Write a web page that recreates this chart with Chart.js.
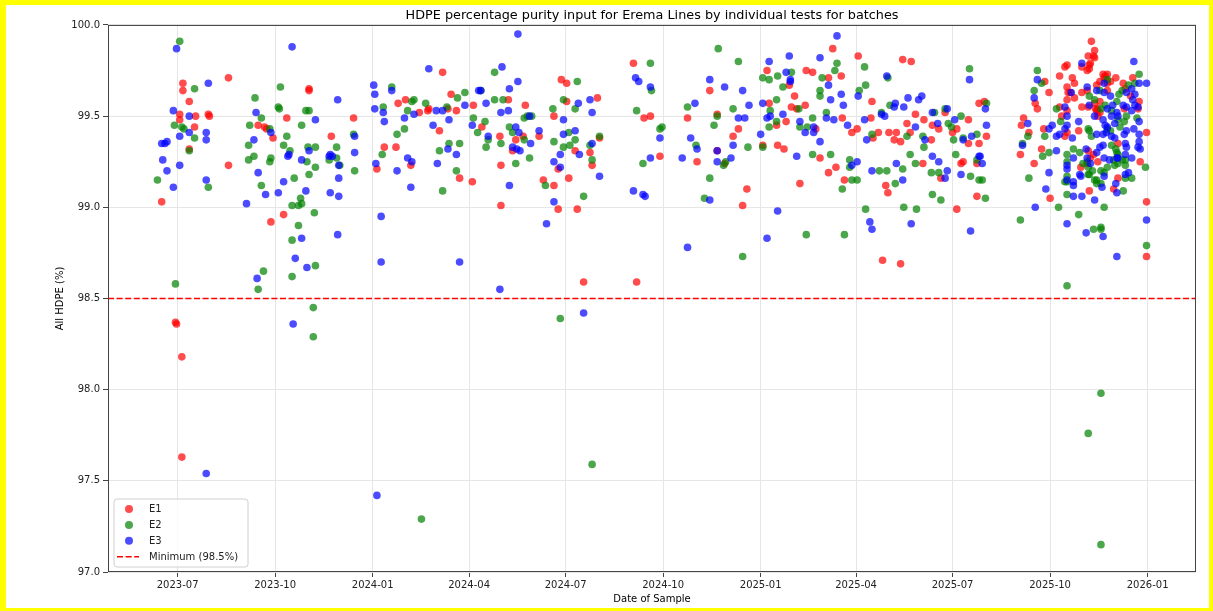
<!DOCTYPE html>
<html>
<head>
<meta charset="utf-8">
<script src="https://cdn.jsdelivr.net/npm/chart.js@4.4.1/dist/chart.umd.min.js"></script>
<style>
  html, body { margin: 0; padding: 0; background: #fff; }
  #wrap { position: relative; width: 1213px; height: 611px; }
  #chart { display: block; }
  #frame { position: absolute; left: 0; top: 0; width: 1213px; height: 611px; box-sizing: border-box;
           border-style: solid; border-color: #ffff00; border-width: 5px 4px 3px 6px; pointer-events: none; }
</style>
</head>
<body>
<div id="wrap"><canvas id="chart" width="1213" height="611"></canvas><div id="frame"></div></div>
<script>
// samples: [date of sample, HDPE %]
const e1Samples = [
  ['2023-06-16',99.03],['2023-06-29',98.37],['2023-06-30',98.36],['2023-07-03',99.51],['2023-07-03',99.48],
  ['2023-07-05',98.18],['2023-07-05',97.63],['2023-07-06',99.68],['2023-07-06',99.64],['2023-07-12',99.58],
  ['2023-07-12',99.32],['2023-07-17',99.44],['2023-07-18',99.50],['2023-07-30',99.51],['2023-07-31',99.50],
  ['2023-08-18',99.71],['2023-08-18',99.23],['2023-09-15',99.45],['2023-09-21',99.44],['2023-09-23',99.43],
  ['2023-09-27',98.92],['2023-09-29',99.38],['2023-10-09',98.96],['2023-10-12',99.49],['2023-11-02',99.65],
  ['2023-11-02',99.64],['2023-11-23',99.39],['2023-12-14',99.49],['2024-01-05',99.21],['2024-01-12',99.33],
  ['2024-01-23',99.33],['2024-01-25',99.57],['2024-02-01',99.59],['2024-02-06',99.23],['2024-02-14',99.52],
  ['2024-02-22',99.53],['2024-02-23',99.54],['2024-03-04',99.42],['2024-03-07',99.74],['2024-03-12',99.54],
  ['2024-03-15',99.62],['2024-03-20',99.53],['2024-03-23',99.16],['2024-04-04',99.14],['2024-04-05',99.56],
  ['2024-04-13',99.44],['2024-04-30',99.39],['2024-05-01',99.23],['2024-05-01',99.01],['2024-05-08',99.59],
  ['2024-05-12',99.31],['2024-05-15',99.37],['2024-05-22',99.39],['2024-05-24',99.56],['2024-06-06',99.39],
  ['2024-06-10',99.15],['2024-06-20',99.12],['2024-06-20',99.50],['2024-06-24',99.21],['2024-06-24',98.99],
  ['2024-06-27',99.70],['2024-07-02',99.68],['2024-07-02',99.58],['2024-07-04',99.16],['2024-07-10',99.31],
  ['2024-07-12',98.99],['2024-07-18',98.59],['2024-07-24',99.30],['2024-07-26',99.23],['2024-07-31',99.60],
  ['2024-08-02',99.38],['2024-09-03',99.79],['2024-09-06',98.59],['2024-09-13',99.49],['2024-09-19',99.50],
  ['2024-09-28',99.28],['2024-10-24',99.49],['2024-11-02',99.25],['2024-11-14',99.64],['2024-11-21',99.51],
  ['2024-11-21',99.31],['2024-11-28',99.24],['2024-12-06',99.39],['2024-12-11',99.43],['2024-12-15',99.01],
  ['2024-12-19',99.10],['2025-01-03',99.34],['2025-01-07',99.75],['2025-01-09',99.57],['2025-01-16',99.45],
  ['2025-01-17',99.34],['2025-01-23',99.32],['2025-01-25',99.47],['2025-01-28',99.67],['2025-01-30',99.55],
  ['2025-02-02',99.61],['2025-02-04',99.54],['2025-02-07',99.13],['2025-02-12',99.56],['2025-02-13',99.75],
  ['2025-02-19',99.74],['2025-02-22',99.43],['2025-02-26',99.27],['2025-03-06',99.71],['2025-03-06',99.19],
  ['2025-03-10',99.87],['2025-03-13',99.22],['2025-03-18',99.72],['2025-03-19',99.49],['2025-03-21',99.15],
  ['2025-03-28',99.41],['2025-04-02',99.43],['2025-04-03',99.83],['2025-04-15',99.49],['2025-04-16',99.58],
  ['2025-04-17',99.38],['2025-04-22',99.41],['2025-04-26',98.71],['2025-04-29',99.12],['2025-05-01',99.08],
  ['2025-05-02',99.41],['2025-05-07',99.37],['2025-05-09',99.41],['2025-05-13',99.36],['2025-05-13',98.69],
  ['2025-05-15',99.81],['2025-05-19',99.46],['2025-05-22',99.41],['2025-05-23',99.80],['2025-05-27',99.51],
  ['2025-06-03',99.24],['2025-06-04',99.48],['2025-06-11',99.37],['2025-06-12',99.45],['2025-06-18',99.43],
  ['2025-06-20',99.16],['2025-06-24',99.52],['2025-07-01',99.41],['2025-07-05',99.43],['2025-07-05',98.99],
  ['2025-07-09',99.24],['2025-07-11',99.25],['2025-07-16',99.48],['2025-07-16',99.35],['2025-07-24',99.24],
  ['2025-07-24',99.06],['2025-07-26',99.35],['2025-07-26',99.57],['2025-07-31',99.58],['2025-08-02',99.39],
  ['2025-09-03',99.29],['2025-09-04',99.45],['2025-09-06',99.49],['2025-09-11',99.41],['2025-09-16',99.24],
  ['2025-09-17',99.57],['2025-09-19',99.54],['2025-09-23',99.32],['2025-09-25',99.43],['2025-09-26',99.69],
  ['2025-09-30',99.63],['2025-10-01',99.05],['2025-10-10',99.72],['2025-10-10',99.55],['2025-10-12',99.50],
  ['2025-10-15',99.77],['2025-10-15',99.39],['2025-10-17',99.78],['2025-10-17',99.66],['2025-10-17',99.59],
  ['2025-10-17',99.53],['2025-10-17',99.41],['2025-10-18',99.63],['2025-10-20',99.63],['2025-10-22',99.71],
  ['2025-10-24',99.68],['2025-10-24',99.60],['2025-10-28',99.42],['2025-10-30',99.22],['2025-10-31',99.77],
  ['2025-10-31',99.63],['2025-10-31',99.55],['2025-11-05',99.75],['2025-11-05',99.64],['2025-11-05',99.24],
  ['2025-11-06',99.55],['2025-11-06',99.83],['2025-11-06',99.31],['2025-11-07',99.76],['2025-11-07',99.78],
  ['2025-11-07',99.09],['2025-11-08',99.79],['2025-11-08',99.27],['2025-11-09',99.91],['2025-11-11',99.83],
  ['2025-11-11',99.29],['2025-11-12',99.86],['2025-11-12',99.82],['2025-11-12',99.57],['2025-11-13',99.54],
  ['2025-11-14',99.67],['2025-11-14',99.53],['2025-11-15',99.54],['2025-11-15',99.50],['2025-11-15',99.25],
  ['2025-11-17',99.58],['2025-11-17',99.69],['2025-11-17',99.52],['2025-11-20',99.73],['2025-11-21',99.71],
  ['2025-11-22',99.72],['2025-11-24',99.73],['2025-11-24',99.68],['2025-11-24',99.64],['2025-11-27',99.69],
  ['2025-11-30',99.10],['2025-12-02',99.71],['2025-12-04',99.35],['2025-12-04',99.16],['2025-12-09',99.68],
  ['2025-12-10',99.54],['2025-12-11',99.65],['2025-12-16',99.61],['2025-12-18',99.71],['2025-12-23',99.54],
  ['2025-12-24',99.58],['2025-12-25',99.25],['2025-12-31',99.41],['2025-12-31',99.03],['2025-12-31',98.73]
];
const e2Samples = [
  ['2023-06-12',99.15],['2023-06-28',99.45],['2023-06-29',98.58],['2023-07-03',99.91],['2023-07-05',99.44],
  ['2023-07-07',99.43],['2023-07-12',99.31],['2023-07-17',99.65],['2023-07-17',99.38],['2023-07-30',99.11],
  ['2023-09-06',99.34],['2023-09-06',99.26],['2023-09-07',99.45],['2023-09-11',99.28],['2023-09-12',99.60],
  ['2023-09-15',98.55],['2023-09-18',99.49],['2023-09-18',99.12],['2023-09-20',98.65],['2023-09-26',99.43],
  ['2023-09-26',99.25],['2023-09-27',99.27],['2023-10-04',99.55],['2023-10-05',99.54],['2023-10-06',99.66],
  ['2023-10-09',99.34],['2023-10-12',99.39],['2023-10-15',99.31],['2023-10-17',99.01],['2023-10-17',98.82],
  ['2023-10-17',98.62],['2023-10-19',99.16],['2023-10-23',99.01],['2023-10-23',98.90],['2023-10-25',99.05],
  ['2023-10-26',99.45],['2023-10-26',99.02],['2023-10-30',99.53],['2023-10-31',99.25],['2023-11-01',99.33],
  ['2023-11-02',99.53],['2023-11-02',99.18],['2023-11-06',98.45],['2023-11-06',98.29],['2023-11-07',98.97],
  ['2023-11-08',99.33],['2023-11-08',99.22],['2023-11-08',98.68],['2023-11-21',99.26],['2023-11-28',99.33],
  ['2023-11-28',99.27],['2023-12-01',99.23],['2023-12-14',99.40],['2023-12-15',99.20],['2024-01-10',99.29],
  ['2024-01-11',99.55],['2024-01-19',99.66],['2024-01-24',99.40],['2024-01-31',99.43],['2024-02-03',99.53],
  ['2024-02-07',99.58],['2024-02-09',99.59],['2024-02-16',97.29],['2024-02-20',99.57],['2024-03-04',99.31],
  ['2024-03-07',99.09],['2024-03-11',99.55],['2024-03-13',99.35],['2024-03-20',99.20],['2024-03-21',99.60],
  ['2024-03-23',99.35],['2024-03-28',99.63],['2024-04-05',99.49],['2024-04-09',99.41],['2024-04-12',99.64],
  ['2024-04-16',99.47],['2024-04-17',99.33],['2024-04-19',99.37],['2024-04-25',99.74],['2024-04-25',99.59],
  ['2024-05-01',99.35],['2024-05-03',99.59],['2024-05-09',99.44],['2024-05-12',99.41],['2024-05-15',99.24],
  ['2024-05-23',99.37],['2024-05-23',99.49],['2024-05-26',99.50],['2024-05-28',99.27],['2024-05-30',99.50],
  ['2024-06-12',99.12],['2024-06-19',99.54],['2024-06-20',99.36],['2024-06-26',98.39],['2024-06-29',99.59],
  ['2024-06-29',99.33],['2024-07-04',99.41],['2024-07-05',99.34],['2024-07-10',99.54],['2024-07-10',99.37],
  ['2024-07-12',99.69],['2024-07-18',99.06],['2024-07-24',99.34],['2024-07-26',99.26],['2024-07-26',97.59],
  ['2024-08-02',99.39],['2024-09-06',99.53],['2024-09-12',99.24],['2024-09-19',99.79],['2024-09-20',99.64],
  ['2024-09-28',99.43],['2024-09-30',99.44],['2024-10-24',99.55],['2024-11-01',99.34],['2024-11-09',99.05],
  ['2024-11-14',99.16],['2024-11-18',99.45],['2024-11-21',99.50],['2024-11-22',99.87],['2024-11-27',99.23],
  ['2024-11-29',99.25],['2024-12-06',99.54],['2024-12-11',99.80],['2024-12-15',98.73],['2024-12-20',99.33],
  ['2025-01-03',99.71],['2025-01-03',99.33],['2025-01-09',99.70],['2025-01-09',99.44],['2025-01-10',99.53],
  ['2025-01-16',99.59],['2025-01-16',99.47],['2025-01-17',99.72],['2025-01-22',99.66],['2025-01-30',99.74],
  ['2025-02-06',99.54],['2025-02-07',99.44],['2025-02-13',98.85],['2025-02-14',99.44],['2025-02-19',99.49],
  ['2025-02-19',99.29],['2025-02-26',99.64],['2025-02-26',99.61],['2025-02-28',99.71],['2025-03-04',99.52],
  ['2025-03-08',99.29],['2025-03-12',99.75],['2025-03-14',99.79],['2025-03-19',99.10],['2025-03-21',98.85],
  ['2025-03-26',99.26],['2025-03-26',99.22],['2025-03-28',99.15],['2025-04-02',99.15],['2025-04-04',99.64],
  ['2025-04-09',99.77],['2025-04-10',99.67],['2025-04-10',98.99],['2025-04-16',99.40],['2025-04-23',99.20],
  ['2025-04-25',99.52],['2025-04-30',99.20],['2025-05-01',99.71],['2025-05-03',99.56],['2025-05-08',99.13],
  ['2025-05-15',99.21],['2025-05-16',99.00],['2025-05-19',99.39],['2025-05-22',99.29],['2025-05-27',99.24],
  ['2025-05-28',98.99],['2025-06-03',99.39],['2025-06-04',99.33],['2025-06-11',99.19],['2025-06-12',99.07],
  ['2025-06-14',99.52],['2025-06-18',99.19],['2025-06-20',99.04],['2025-06-24',99.54],['2025-06-27',99.46],
  ['2025-06-30',99.44],['2025-07-02',99.37],['2025-07-04',99.29],['2025-07-09',99.50],['2025-07-11',99.38],
  ['2025-07-17',99.76],['2025-07-18',99.17],['2025-07-24',99.26],['2025-07-24',99.40],['2025-07-26',99.15],
  ['2025-07-29',99.15],['2025-08-01',99.05],['2025-08-02',99.57],['2025-09-03',98.93],['2025-09-05',99.35],
  ['2025-09-10',99.39],['2025-09-11',99.16],['2025-09-16',99.64],['2025-09-19',99.75],['2025-09-23',99.68],
  ['2025-09-24',99.28],['2025-09-26',99.39],['2025-09-30',99.30],['2025-10-07',99.54],['2025-10-09',99.00],
  ['2025-10-11',99.47],['2025-10-15',99.14],['2025-10-17',99.29],['2025-10-17',99.25],['2025-10-17',99.17],
  ['2025-10-17',99.14],['2025-10-17',99.07],['2025-10-17',98.57],['2025-10-23',99.32],['2025-10-28',98.96],
  ['2025-10-29',99.30],['2025-11-01',99.24],['2025-11-05',99.25],['2025-11-06',99.22],['2025-11-06',99.18],
  ['2025-11-06',99.43],['2025-11-06',97.76],['2025-11-07',99.18],['2025-11-07',99.42],['2025-11-07',99.61],
  ['2025-11-09',99.39],['2025-11-10',99.20],['2025-11-11',98.88],['2025-11-12',99.15],['2025-11-12',99.59],
  ['2025-11-14',99.15],['2025-11-14',99.13],['2025-11-17',99.64],['2025-11-18',99.20],['2025-11-18',99.13],
  ['2025-11-18',99.54],['2025-11-18',98.89],['2025-11-18',98.88],['2025-11-18',97.98],['2025-11-18',97.15],
  ['2025-11-21',99.19],['2025-11-21',99.00],['2025-11-22',99.56],['2025-11-24',99.22],['2025-11-24',99.43],
  ['2025-11-24',99.70],['2025-11-27',99.42],['2025-11-28',99.53],['2025-11-28',99.34],['2025-11-30',99.26],
  ['2025-12-01',99.23],['2025-12-02',99.32],['2025-12-03',99.30],['2025-12-03',99.58],['2025-12-04',99.24],
  ['2025-12-04',99.29],['2025-12-04',99.48],['2025-12-05',99.62],['2025-12-06',99.44],['2025-12-08',99.64],
  ['2025-12-08',99.26],['2025-12-09',99.09],['2025-12-10',99.47],['2025-12-11',99.23],['2025-12-11',99.16],
  ['2025-12-11',99.26],['2025-12-12',99.50],['2025-12-14',99.67],['2025-12-17',99.16],['2025-12-20',99.68],
  ['2025-12-22',99.49],['2025-12-24',99.73],['2025-12-30',99.22],['2025-12-31',98.79]
];
const e3Samples = [
  ['2023-06-16',99.35],['2023-06-17',99.26],['2023-06-19',99.35],['2023-06-21',99.36],['2023-06-21',99.20],
  ['2023-06-27',99.53],['2023-06-27',99.11],['2023-06-30',99.87],['2023-07-03',99.39],['2023-07-03',99.23],
  ['2023-07-12',99.50],['2023-07-12',99.41],['2023-07-28',99.41],['2023-07-28',99.37],['2023-07-28',99.15],
  ['2023-07-28',97.54],['2023-07-30',99.68],['2023-09-04',99.02],['2023-09-11',99.37],['2023-09-13',99.52],
  ['2023-09-14',98.61],['2023-09-15',99.19],['2023-09-22',99.07],['2023-09-27',99.41],['2023-10-04',99.08],
  ['2023-10-09',99.14],['2023-10-13',99.28],['2023-10-14',99.29],['2023-10-17',99.88],['2023-10-18',98.36],
  ['2023-10-20',98.72],['2023-10-26',99.26],['2023-10-26',98.83],['2023-10-30',99.09],['2023-10-31',98.67],
  ['2023-11-02',99.31],['2023-11-08',99.48],['2023-11-21',99.28],['2023-11-22',99.29],['2023-11-22',99.08],
  ['2023-11-24',99.28],['2023-11-29',99.59],['2023-11-29',98.85],['2023-11-30',99.23],['2023-11-30',99.16],
  ['2023-11-30',99.06],['2023-12-15',99.39],['2023-12-15',99.30],['2024-01-02',99.67],['2024-01-03',99.62],
  ['2024-01-03',99.54],['2024-01-04',99.24],['2024-01-05',97.42],['2024-01-09',98.95],['2024-01-09',98.70],
  ['2024-01-11',99.52],['2024-01-12',99.47],['2024-01-19',99.64],['2024-01-24',99.20],['2024-01-31',99.49],
  ['2024-02-03',99.27],['2024-02-06',99.11],['2024-02-07',99.25],['2024-02-09',99.51],['2024-02-23',99.76],
  ['2024-02-27',99.45],['2024-03-01',99.53],['2024-03-02',99.24],['2024-03-07',99.53],['2024-03-12',99.32],
  ['2024-03-13',99.48],['2024-03-20',99.29],['2024-03-23',98.70],['2024-03-28',99.56],['2024-04-04',99.45],
  ['2024-04-10',99.64],['2024-04-12',99.64],['2024-04-17',99.57],['2024-04-19',99.39],['2024-04-30',98.55],
  ['2024-05-01',99.52],['2024-05-02',99.77],['2024-05-08',99.53],['2024-05-09',99.65],['2024-05-09',99.12],
  ['2024-05-12',99.33],['2024-05-15',99.44],['2024-05-16',99.32],['2024-05-17',99.95],['2024-05-17',99.69],
  ['2024-05-18',99.41],['2024-05-19',99.31],['2024-05-28',99.50],['2024-05-29',99.35],['2024-06-06',99.42],
  ['2024-06-13',98.91],['2024-06-20',99.25],['2024-06-20',99.03],['2024-06-26',99.29],['2024-06-26',99.22],
  ['2024-06-29',99.48],['2024-06-29',99.40],['2024-07-10',99.42],['2024-07-13',99.57],['2024-07-14',99.29],
  ['2024-07-18',98.42],['2024-07-24',99.59],['2024-07-26',99.52],['2024-07-26',99.35],['2024-08-02',99.17],
  ['2024-09-03',99.09],['2024-09-05',99.71],['2024-09-08',99.69],['2024-09-12',99.07],['2024-09-14',99.06],
  ['2024-09-19',99.66],['2024-09-19',99.27],['2024-09-28',99.38],['2024-10-19',99.27],['2024-10-24',98.78],
  ['2024-10-27',99.38],['2024-10-31',99.57],['2024-11-02',99.32],['2024-11-14',99.70],['2024-11-14',99.04],
  ['2024-11-21',99.31],['2024-11-21',99.25],['2024-11-28',99.66],['2024-12-04',99.27],['2024-12-06',99.34],
  ['2024-12-11',99.49],['2024-12-15',99.64],['2024-12-17',99.49],['2024-12-21',99.56],['2025-01-01',99.40],
  ['2025-01-03',99.57],['2025-01-07',99.49],['2025-01-07',98.83],['2025-01-09',99.80],['2025-01-10',99.50],
  ['2025-01-17',98.98],['2025-01-22',99.51],['2025-01-25',99.74],['2025-01-28',99.83],['2025-01-29',99.70],
  ['2025-01-29',99.69],['2025-02-04',99.28],['2025-02-07',99.47],['2025-02-12',99.41],['2025-02-20',99.41],
  ['2025-02-20',99.44],['2025-02-26',99.82],['2025-02-26',99.36],['2025-03-04',99.49],['2025-03-06',99.67],
  ['2025-03-08',99.59],['2025-03-11',99.48],['2025-03-14',99.94],['2025-03-18',99.62],['2025-03-20',99.56],
  ['2025-03-24',99.45],['2025-03-28',99.23],['2025-04-02',99.25],['2025-04-03',99.61],['2025-04-09',99.48],
  ['2025-04-11',99.37],['2025-04-14',98.92],['2025-04-16',99.20],['2025-04-16',98.88],['2025-04-25',99.51],
  ['2025-04-28',99.50],['2025-04-30',99.72],['2025-05-07',99.55],['2025-05-08',99.57],['2025-05-09',99.24],
  ['2025-05-15',99.15],['2025-05-16',99.55],['2025-05-20',99.60],['2025-05-23',98.91],['2025-05-27',99.44],
  ['2025-05-30',99.59],['2025-06-02',99.61],['2025-06-05',99.37],['2025-06-12',99.52],['2025-06-12',99.28],
  ['2025-06-17',99.46],['2025-06-18',99.25],['2025-06-24',99.16],['2025-06-26',99.54],['2025-06-26',99.20],
  ['2025-07-03',99.48],['2025-07-09',99.18],['2025-07-11',99.37],['2025-07-17',99.70],['2025-07-18',98.87],
  ['2025-07-19',99.39],['2025-07-26',99.28],['2025-07-27',99.28],['2025-07-29',99.24],['2025-08-01',99.54],
  ['2025-08-02',99.45],['2025-09-05',99.34],['2025-09-10',99.46],['2025-09-16',99.60],['2025-09-17',99.00],
  ['2025-09-19',99.70],['2025-09-27',99.10],['2025-09-30',99.43],['2025-09-30',99.19],['2025-10-03',99.45],
  ['2025-10-07',99.31],['2025-10-07',99.39],['2025-10-10',99.40],['2025-10-15',99.55],['2025-10-15',99.43],
  ['2025-10-17',99.50],['2025-10-17',99.45],['2025-10-17',99.23],['2025-10-17',99.21],['2025-10-17',99.15],
  ['2025-10-17',98.91],['2025-10-21',99.63],['2025-10-22',99.38],['2025-10-23',99.27],['2025-10-23',99.14],
  ['2025-10-23',99.12],['2025-10-23',99.06],['2025-10-28',99.47],['2025-10-29',99.18],['2025-10-30',99.17],
  ['2025-10-31',99.79],['2025-10-31',99.06],['2025-11-04',99.32],['2025-11-04',98.86],['2025-11-05',99.66],
  ['2025-11-05',99.27],['2025-11-07',99.56],['2025-11-08',99.24],['2025-11-12',99.50],['2025-11-12',99.04],
  ['2025-11-14',99.64],['2025-11-14',99.40],['2025-11-14',99.30],['2025-11-17',99.33],['2025-11-19',99.11],
  ['2025-11-20',99.48],['2025-11-20',99.40],['2025-11-20',99.34],['2025-11-20',98.84],['2025-11-21',99.63],
  ['2025-11-21',99.68],['2025-11-21',99.27],['2025-11-21',99.17],['2025-11-22',99.45],['2025-11-23',99.41],
  ['2025-11-24',99.54],['2025-11-24',99.44],['2025-11-26',99.26],['2025-11-27',99.61],['2025-11-28',99.39],
  ['2025-11-28',99.50],['2025-11-29',99.56],['2025-12-01',99.38],['2025-12-01',99.46],['2025-12-02',99.13],
  ['2025-12-03',99.52],['2025-12-03',99.27],['2025-12-03',99.08],['2025-12-03',98.73],['2025-12-04',99.27],
  ['2025-12-04',99.50],['2025-12-09',99.56],['2025-12-10',99.40],['2025-12-11',99.18],['2025-12-11',99.29],
  ['2025-12-11',99.35],['2025-12-12',99.33],['2025-12-12',99.42],['2025-12-12',99.55],['2025-12-12',99.63],
  ['2025-12-14',99.19],['2025-12-17',99.27],['2025-12-17',99.53],['2025-12-17',99.65],['2025-12-18',99.59],
  ['2025-12-19',99.43],['2025-12-19',99.80],['2025-12-20',99.56],['2025-12-20',99.62],['2025-12-23',99.33],
  ['2025-12-23',99.55],['2025-12-24',99.40],['2025-12-24',99.36],['2025-12-24',99.47],['2025-12-24',99.68],
  ['2025-12-25',99.32],['2025-12-31',99.68],['2025-12-31',98.93]
];
const seriesNames = ['E1', 'E2', 'E3'];
const tickLabels = ['2023-07', '2023-10', '2024-01', '2024-04', '2024-07', '2024-10',
                    '2025-01', '2025-04', '2025-07', '2025-10', '2026-01'];
const minimumPct = 98.5;

const toPoints = rows => rows.map(r => ({ x: Date.parse(r[0]), y: r[1] }));

// matplotlib style 5% margin around the date range
const allTimes = [...e1Samples, ...e2Samples, ...e3Samples].map(r => Date.parse(r[0]));
const tMin = Math.min(...allTimes), tMax = Math.max(...allTimes);
const xMin = tMin - (tMax - tMin) * 0.05;
const xMax = tMax + (tMax - tMin) * 0.05;

const FONT = 'DejaVu Sans';

// spines on all four sides
const framePlugin = {
  id: 'frame',
  afterDatasetsDraw(chart) {
    const { ctx, chartArea: a } = chart;
    ctx.save();
    ctx.strokeStyle = '#444';
    ctx.lineWidth = 1;
    ctx.strokeRect(a.left + 0.5, a.top + 0.5, a.right - a.left - 1, a.bottom - a.top - 1);
    ctx.restore();
  }
};

// legend boxed in lower-left corner of the axes
const legendPlugin = {
  id: 'innerLegend',
  afterDraw(chart) {
    const { ctx, chartArea: a } = chart;
    const w = 134, h = 68;
    const x = a.left + 6, y = a.bottom - 5 - h, r = 3;
    ctx.save();
    ctx.beginPath();
    ctx.moveTo(x + r, y);
    ctx.arcTo(x + w, y, x + w, y + h, r);
    ctx.arcTo(x + w, y + h, x, y + h, r);
    ctx.arcTo(x, y + h, x, y, r);
    ctx.arcTo(x, y, x + w, y, r);
    ctx.closePath();
    ctx.fillStyle = 'rgba(255,255,255,0.8)';
    ctx.fill();
    ctx.strokeStyle = '#d0d0d0';
    ctx.lineWidth = 1;
    ctx.stroke();

    ctx.font = '10px "' + FONT + '"';
    ctx.textBaseline = 'middle';
    ctx.textAlign = 'left';
    chart.data.datasets.forEach((ds, i) => {
      const cy = y + 10 + i * 15.9;
      if (ds.type === 'line') {
        ctx.strokeStyle = ds.borderColor;
        ctx.lineWidth = ds.borderWidth;
        ctx.setLineDash(ds.borderDash);
        ctx.beginPath();
        ctx.moveTo(x + 3, cy);
        ctx.lineTo(x + 25, cy);
        ctx.stroke();
        ctx.setLineDash([]);
      } else {
        ctx.fillStyle = ds.backgroundColor;
        ctx.beginPath();
        ctx.arc(x + 15, cy, 4, 0, Math.PI * 2);
        ctx.fill();
      }
      ctx.fillStyle = '#222';
      ctx.fillText(ds.label, x + 35, cy + 0.5);
    });
    ctx.restore();
  }
};

const scatterSet = (label, rows, color, order) => ({
  type: 'scatter',
  label,
  data: toPoints(rows),
  backgroundColor: color,
  borderWidth: 0,
  pointRadius: 3.8,
  pointHoverRadius: 3.8,
  order
});

new Chart(document.getElementById('chart'), {
  type: 'scatter',
  data: {
    datasets: [
      scatterSet(seriesNames[0], e1Samples, 'rgba(255,0,0,0.7)', 3),
      scatterSet(seriesNames[1], e2Samples, 'rgba(0,128,0,0.7)', 2),
      scatterSet(seriesNames[2], e3Samples, 'rgba(0,0,255,0.7)', 1),
      {
        type: 'line',
        label: 'Minimum (' + minimumPct + '%)',
        data: [{ x: xMin, y: minimumPct }, { x: xMax, y: minimumPct }],
        borderColor: '#ff0000',
        borderWidth: 1.5,
        borderDash: [6, 2.6],
        pointRadius: 0,
        fill: false,
        order: 0
      }
    ]
  },
  options: {
    responsive: false,
    animation: false,
    events: [],
    layout: { padding: { left: 0, right: 17, top: 6, bottom: 0 } },
    plugins: {
      legend: { display: false },
      tooltip: { enabled: false },
      title: {
        display: true,
        fullSize: false,
        text: 'HDPE percentage purity input for Erema Lines by individual tests for batches',
        color: '#000',
        font: { family: FONT, size: 12.8, weight: 'normal' },
        padding: { top: 1.5, bottom: 2.1 }
      }
    },
    scales: {
      x: {
        type: 'linear',
        min: xMin,
        max: xMax,
        afterBuildTicks: scale => {
          scale.ticks = tickLabels.map(l => ({ value: Date.parse(l + '-01') }));
        },
        afterFit: scale => { scale.height = 39; },
        ticks: {
          callback: (v, i) => tickLabels[i],
          color: '#222',
          font: { family: FONT, size: 10 },
          padding: 2,
          maxRotation: 0,
          autoSkip: false
        },
        grid: { color: '#e6e6e6', lineWidth: 1, tickColor: '#444', tickLength: 5 },
        border: { display: false },
        title: {
          display: true,
          text: 'Date of Sample',
          color: '#000',
          font: { family: FONT, size: 10 },
          padding: { top: 0, bottom: 6 }
        }
      },
      y: {
        min: 97,
        max: 100,
        afterFit: scale => { scale.width = 108; },
        ticks: {
          stepSize: 0.5,
          callback: v => v.toFixed(1),
          color: '#222',
          font: { family: FONT, size: 10 },
          padding: 3
        },
        grid: { color: '#e6e6e6', lineWidth: 1, tickColor: '#444', tickLength: 5 },
        border: { display: false },
        title: {
          display: true,
          text: 'All HDPE (%)',
          color: '#000',
          font: { family: FONT, size: 10 },
          padding: { top: 54, bottom: 0 }
        }
      }
    }
  },
  plugins: [framePlugin, legendPlugin]
});
</script>
</body>
</html>
